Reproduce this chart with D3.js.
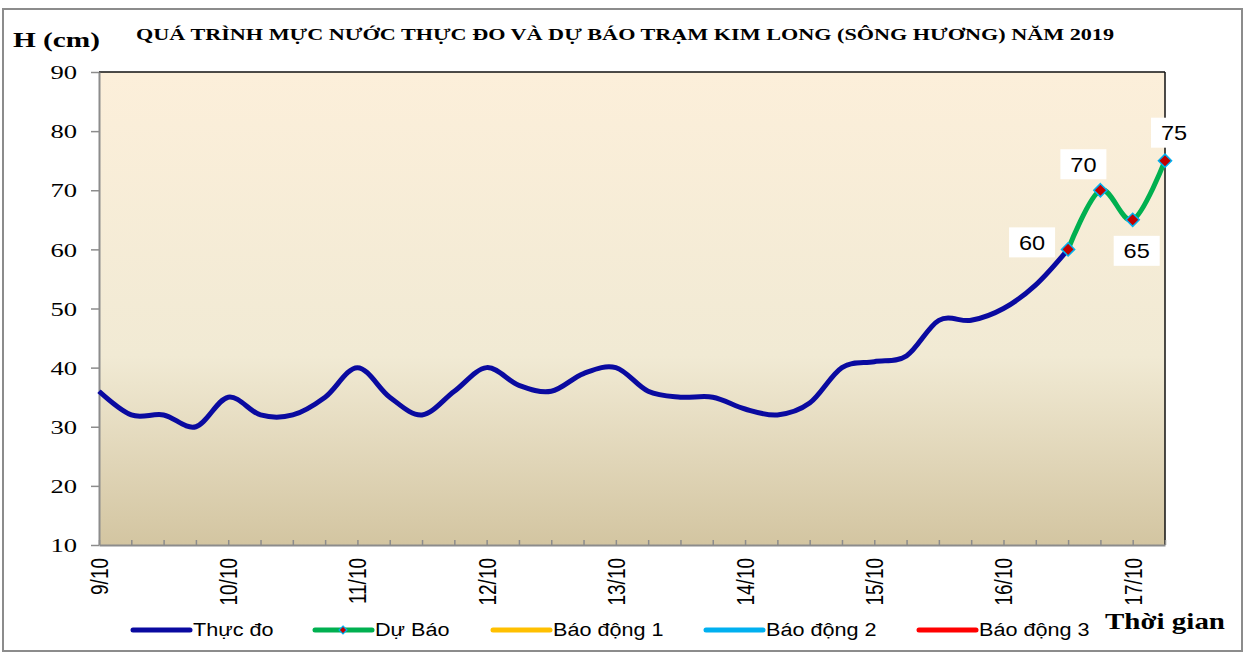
<!DOCTYPE html>
<html>
<head>
<meta charset="utf-8">
<script src="https://cdn.jsdelivr.net/npm/d3@7"></script>
<style>
  body { margin: 0; background: #fff; }
  svg { display: block; }
</style>
</head>
<body>
<div class="chart_wrapper"></div>
<script>
// 6-hourly readings, 9/10 00h .. 16/10 12h
var measured = [36, 32, 32, 30, 35, 32, 32, 35, 40, 35, 32, 36, 40, 37, 36, 39,
  40, 36, 35, 35, 33, 32, 34, 40, 41, 42, 48, 48, 50, 54, 60];
// forecast, starting at the last measured point
var forecastStart = 30;
var forecast = [60, 70, 65, 75];
var dayLabels = ['9/10', '10/10', '11/10', '12/10', '13/10', '14/10', '15/10', '16/10', '17/10'];
var yTicks = [10, 20, 30, 40, 50, 60, 70, 80, 90];
var legendNames = ['Thực đo', 'Dự Báo', 'Báo động 1', 'Báo động 2', 'Báo động 3'];
var legendColors = ['#0A0AA0', '#00B050', '#FFC000', '#00B0F0', '#FF0000'];

(function () {
  var width = 1249;
  var height = 656;
  var plotLeft = 99, plotRight = 1165, plotTop = 72, plotBottom = 545;
  var nPoints = forecastStart + forecast.length;
  var serif = '"Liberation Serif", serif';
  var sans = '"Liberation Sans", Arial, sans-serif';

  // the original picture is stretched sideways, widen text to suit
  function stretch(sel, k) {
    sel.each(function () {
      var w = this.getComputedTextLength();
      d3.select(this).attr('textLength', w * k).attr('lengthAdjust', 'spacingAndGlyphs');
    });
  }

  var svg = d3.select('.chart_wrapper').append('svg')
    .attr('width', width).attr('height', height);

  var grad = svg.append('defs').append('linearGradient').attr('id', 'bg')
    .attr('x1', 0).attr('y1', 0).attr('x2', 0).attr('y2', 1);
  grad.append('stop').attr('offset', '0%').attr('stop-color', '#FCEFDA');
  grad.append('stop').attr('offset', '60%').attr('stop-color', '#F1EAD4');
  grad.append('stop').attr('offset', '100%').attr('stop-color', '#D3C5A1');

  // outer frame
  svg.append('rect').attr('x', 3).attr('y', 9).attr('width', 1239).attr('height', 642)
    .attr('fill', '#fff').attr('stroke', '#8c8c8c').attr('stroke-width', 2);

  var x = d3.scaleLinear().domain([0, nPoints - 1]).range([plotLeft, plotRight]);
  var y = d3.scaleLinear().domain([10, 90]).range([plotBottom, plotTop]);

  // plot area
  svg.append('rect').attr('x', plotLeft).attr('y', plotTop)
    .attr('width', plotRight - plotLeft).attr('height', plotBottom - plotTop)
    .attr('fill', 'url(#bg)');
  svg.append('line').attr('x1', plotLeft).attr('x2', plotRight).attr('y1', plotTop).attr('y2', plotTop)
    .attr('stroke', '#111').attr('stroke-width', 1.5);
  svg.append('line').attr('x1', plotRight).attr('x2', plotRight).attr('y1', plotTop).attr('y2', plotBottom)
    .attr('stroke', '#111').attr('stroke-width', 1.5);

  // y axis
  var yAxis = svg.append('g').attr('transform', 'translate(' + plotLeft + ',0)')
    .call(d3.axisLeft(y).tickValues(yTicks).tickSize(8).tickSizeOuter(0));
  yAxis.select('.domain').attr('stroke', '#8c8c8c').attr('stroke-width', 2);
  yAxis.selectAll('.tick line').attr('stroke', '#8c8c8c').attr('stroke-width', 1.5);
  yAxis.selectAll('.tick text').attr('x', -22).attr('dy', '0.35em')
    .style('font-family', serif).style('font-size', '19px').attr('fill', '#000')
    .call(stretch, 1.4);

  // x axis: ticks every 6h, labels each day
  var xAxis = svg.append('g').attr('transform', 'translate(0,' + plotBottom + ')')
    .call(d3.axisBottom(x).tickValues(d3.range(nPoints)).tickSize(-5).tickSizeOuter(0).tickFormat(''));
  xAxis.select('.domain').attr('stroke', '#8c8c8c').attr('stroke-width', 2);
  xAxis.selectAll('.tick line').attr('stroke', '#8c8c8c').attr('stroke-width', 1.5);

  svg.append('g').selectAll('text').data(dayLabels).enter().append('text')
    .attr('transform', function (d, i) {
      return 'translate(' + (x(i * 4) + 9) + ',' + (plotBottom + 13) + ') scale(1.3,1) rotate(-90)';
    })
    .attr('text-anchor', 'end')
    .style('font-family', sans).style('font-size', '19px')
    .text(function (d) { return d; });

  // lines
  var line = d3.line()
    .x(function (d) { return x(d.i); })
    .y(function (d) { return y(d.v); })
    .curve(d3.curveCardinal);

  var measuredPts = measured.map(function (v, i) { return { i: i, v: v }; });
  var forecastPts = forecast.map(function (v, i) { return { i: forecastStart + i, v: v }; });

  svg.append('path').datum(measuredPts).attr('d', line)
    .attr('fill', 'none').attr('stroke', legendColors[0]).attr('stroke-width', 5);
  svg.append('path').datum(forecastPts).attr('d', line)
    .attr('fill', 'none').attr('stroke', legendColors[1]).attr('stroke-width', 5);

  var diamond = d3.symbol().type(d3.symbolDiamond2).size(110);
  svg.append('g').selectAll('path').data(forecastPts).enter().append('path')
    .attr('d', diamond)
    .attr('transform', function (d) { return 'translate(' + x(d.i) + ',' + y(d.v) + ')'; })
    .attr('fill', '#C00000').attr('stroke', '#00B0F0').attr('stroke-width', 1.5);

  // data labels, placed like the original
  var labelOffsets = [[-36, -7], [-17, -26], [4, 31], [9, -28]];
  var lbl = svg.append('g').selectAll('g').data(forecastPts).enter().append('g')
    .attr('transform', function (d, i) {
      var o = labelOffsets[i];
      return 'translate(' + (x(d.i) + o[0]) + ',' + (y(d.v) + o[1]) + ')';
    });
  lbl.append('rect').attr('x', -23).attr('y', -15).attr('width', 46).attr('height', 30).attr('fill', '#fff');
  lbl.append('text').attr('text-anchor', 'middle').attr('dy', '0.36em')
    .style('font-family', sans).style('font-size', '21px')
    .text(function (d) { return d.v; })
    .call(stretch, 1.12);

  // titles
  svg.append('text').attr('x', 13).attr('y', 47)
    .attr('textLength', 87).attr('lengthAdjust', 'spacingAndGlyphs')
    .style('font-family', serif).style('font-size', '22px').style('font-weight', 'bold')
    .text('H (cm)');
  svg.append('text').attr('x', 136).attr('y', 40)
    .attr('textLength', 978).attr('lengthAdjust', 'spacingAndGlyphs')
    .style('font-family', serif).style('font-size', '17px').style('font-weight', 'bold')
    .text('QUÁ TRÌNH MỰC NƯỚC THỰC ĐO VÀ DỰ BÁO TRẠM KIM LONG (SÔNG HƯƠNG) NĂM  2019');
  svg.append('text').attr('x', 1105).attr('y', 629)
    .attr('textLength', 120).attr('lengthAdjust', 'spacingAndGlyphs')
    .style('font-family', serif).style('font-size', '24px').style('font-weight', 'bold')
    .text('Thời gian');

  // legend
  var legendX = [133, 315, 493, 706, 919];
  var legend = svg.append('g').selectAll('g').data(legendNames).enter().append('g')
    .attr('transform', function (d, i) { return 'translate(' + legendX[i] + ',630)'; });
  legend.append('line').attr('x1', 0).attr('x2', 57).attr('y1', 0).attr('y2', 0)
    .attr('stroke', function (d, i) { return legendColors[i]; })
    .attr('stroke-width', 5).attr('stroke-linecap', 'round');
  legend.filter(function (d, i) { return i === 1; }).append('path')
    .attr('d', d3.symbol().type(d3.symbolDiamond2).size(40))
    .attr('transform', 'translate(28,0)')
    .attr('fill', '#C00000').attr('stroke', '#00B0F0').attr('stroke-width', 1.2);
  legend.append('text').attr('x', 60).attr('dy', '0.35em')
    .style('font-family', sans).style('font-size', '18px')
    .text(function (d) { return d; })
    .call(stretch, 1.2);
})();
</script>
</body>
</html>
